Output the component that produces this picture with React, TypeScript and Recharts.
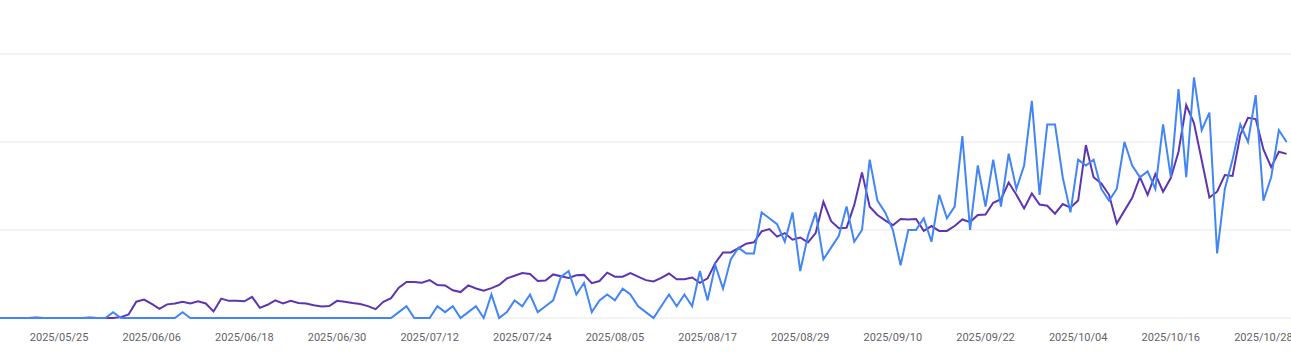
import React from 'react';
import { LineChart, Line, XAxis, YAxis, CartesianGrid } from 'recharts';

// Daily values from 2025/05/17 to 2025/10/31
const clicks = [
  0, 0, 0, 0, 0, 0, 0, 0, 0, 0,
  0, 0, 0, 0, 0, 1, 0, 0, 0, 0,
  0, 0, 0, 0, 1, 0, 0, 0, 0, 0,
  0, 0, 0, 0, 0, 0, 0, 0, 0, 0,
  0, 0, 0, 0, 0, 0, 0, 0, 0, 0,
  0, 0, 1, 2, 0, 0, 0, 2, 1, 2,
  0, 1, 2, 0, 4, 0, 1, 3, 2, 4,
  1, 2, 3, 7, 8, 4, 6, 1, 3, 4,
  3, 5, 4, 2, 1, 0, 2, 4, 2, 4,
  2, 8, 3, 9, 5, 10, 12, 11, 11, 18,
  17, 16, 13, 18, 8, 14, 18, 10, 12, 14,
  19, 13, 15, 27, 20, 18, 15, 9, 15, 15,
  17, 13, 21, 17, 19, 31, 15, 26, 19, 27,
  19, 28, 22, 26, 37, 21, 33, 33, 24, 18,
  27, 26, 27, 22, 20, 22, 30, 26, 24, 25,
  22, 33, 24, 39, 24, 41, 32, 35, 11, 22,
  27, 33, 30, 38, 20, 24, 32, 30,
];

const impressions = [
  0, 0, 0, 0, 0, 1, 0, 0, 0, 0,
  0, 0, 1, 0, 0, 0, 2, 8, 37, 42,
  32, 21, 31, 33, 37, 33, 38, 33, 15, 44,
  39, 39, 38, 48, 23, 30, 40, 33, 39, 34,
  33, 29, 26, 27, 39, 37, 34, 32, 27, 20,
  37, 45, 69, 82, 82, 80, 86, 75, 74, 63,
  59, 74, 67, 62, 68, 75, 90, 96, 102, 100,
  84, 85, 99, 95, 91, 97, 98, 79, 84, 103,
  94, 94, 102, 94, 86, 83, 91, 101, 88, 88,
  92, 80, 90, 125, 149, 149, 159, 169, 172, 197,
  202, 185, 193, 178, 183, 172, 193, 264, 220, 204,
  205, 257, 331, 253, 234, 222, 211, 225, 224, 225,
  198, 209, 198, 198, 209, 224, 218, 234, 235, 262,
  270, 308, 280, 249, 283, 258, 255, 237, 259, 251,
  267, 393, 320, 306, 280, 215, 244, 273, 320, 280,
  327, 287, 318, 378, 484, 443, 359, 274, 287, 325,
  323, 416, 455, 452, 383, 343, 378, 373,
];

const tickLabels = [
  '2025/05/25', '2025/06/06', '2025/06/18', '2025/06/30', '2025/07/12',
  '2025/07/24', '2025/08/05', '2025/08/17', '2025/08/29', '2025/09/10',
  '2025/09/22', '2025/10/04', '2025/10/16', '2025/10/28',
];

const clickTicks = [0, 15, 30, 45];
const impressionTicks = [0, 200, 400, 600];

const START = Date.UTC(2025, 4, 17);
const pad = (n: number) => (n < 10 ? '0' + n : '' + n);
const dates = clicks.map((_, k) => {
  const t = new Date(START + k * 86400000);
  return `${t.getUTCFullYear()}/${pad(t.getUTCMonth() + 1)}/${pad(t.getUTCDate())}`;
});

const data = dates.map((date, k) => ({
  i: k - 1,
  date,
  clicks: clicks[k],
  impressions: impressions[k],
}));

const xTicks = tickLabels.map((l) => dates.indexOf(l) - 1);

export default function App() {
  return (
    <div style={{ position: 'absolute', left: 0, top: 0, width: 1291, height: 352, background: '#fff' }}>
      <LineChart width={1291} height={352} data={data} margin={{ top: 54, right: 0, bottom: 0, left: 0 }}>
        <CartesianGrid vertical={false} stroke="#e6e6e6" strokeWidth={1} />
        <XAxis
          dataKey="i"
          type="number"
          domain={[-0.655, 166.57]}
          allowDataOverflow
          ticks={xTicks}
          interval={0}
          tickFormatter={(v: number) => dates[v + 1]}
          axisLine={false}
          tickLine={false}
          tickSize={0}
          tickMargin={15}
          height={34}
          tick={{ fontFamily: 'Roboto', fontSize: 11, fill: '#5f6368' }}
        />
        <YAxis yAxisId={0} hide domain={[0, 45]} ticks={clickTicks} />
        <YAxis yAxisId="imp" hide domain={[0, 600]} ticks={impressionTicks} />
        <Line
          yAxisId="imp"
          type="linear"
          dataKey="impressions"
          stroke="#5e35b1"
          strokeWidth={2}
          dot={false}
          isAnimationActive={false}
        />
        <Line
          yAxisId={0}
          type="linear"
          dataKey="clicks"
          stroke="#4285f4"
          strokeWidth={2}
          dot={false}
          isAnimationActive={false}
        />
      </LineChart>
    </div>
  );
}
